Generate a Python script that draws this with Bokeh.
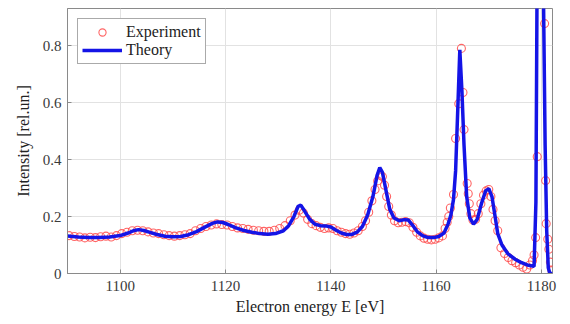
from bokeh.plotting import figure
from bokeh.models import Range1d, FixedTicker, Legend, LegendItem
from bokeh.embed import file_html
from bokeh.resources import INLINE

# Theory curve (energy in eV, intensity in rel. units)
theory_e = [1090.0, 1092.0, 1094.0, 1096.0, 1098.0, 1100.0, 1101.5, 1102.5, 1103.5, 1104.5,
            1105.5, 1107.0, 1108.5, 1110.0, 1111.5, 1113.0, 1114.5, 1116.0, 1117.5, 1118.5,
            1119.5, 1120.5, 1122.0, 1123.5, 1125.0, 1126.5, 1128.0, 1129.5, 1131.0, 1132.0,
            1133.0, 1133.8, 1134.3, 1135.0, 1136.0, 1137.0, 1138.0, 1139.0, 1140.0, 1141.0,
            1142.0, 1143.0, 1144.0, 1145.0, 1146.0, 1147.0, 1148.0, 1148.8, 1149.3, 1149.8,
            1150.5, 1151.2, 1152.0, 1153.0, 1154.0, 1154.7, 1155.5, 1156.5, 1157.5, 1158.5,
            1159.5, 1160.5, 1161.5, 1162.3, 1162.8, 1163.3, 1163.7, 1164.1, 1164.5, 1164.9,
            1165.3, 1165.8, 1166.4, 1167.1, 1167.8, 1168.6, 1169.4, 1170.0, 1170.6, 1171.2,
            1171.7, 1172.5, 1173.6, 1175.0, 1176.0, 1177.3, 1178.6, 1178.95, 1179.15, 1179.5,
            1179.8, 1180.1, 1180.4, 1180.7, 1181.0, 1181.3, 1181.6, 1182.1]
theory_i = [0.132, 0.128, 0.126, 0.126, 0.128, 0.133, 0.142, 0.150, 0.154, 0.151,
            0.145, 0.137, 0.131, 0.129, 0.130, 0.136, 0.147, 0.162, 0.176, 0.181,
            0.179, 0.172, 0.160, 0.151, 0.145, 0.140, 0.138, 0.140, 0.150, 0.168,
            0.200, 0.236, 0.240, 0.220, 0.190, 0.173, 0.168, 0.167, 0.163, 0.152,
            0.142, 0.137, 0.137, 0.145, 0.165, 0.205, 0.270, 0.345, 0.372, 0.355,
            0.290, 0.225, 0.195, 0.185, 0.189, 0.188, 0.170, 0.145, 0.132, 0.126,
            0.126, 0.130, 0.142, 0.175, 0.205, 0.260, 0.360, 0.570, 0.785, 0.640,
            0.450, 0.270, 0.195, 0.173, 0.190, 0.245, 0.290, 0.298, 0.270, 0.200,
            0.140, 0.100, 0.070, 0.050, 0.040, 0.030, 0.025, 0.250, 0.950, 1.600,
            1.700, 1.500, 0.950, 0.450, 0.150, 0.020, 0.000, 0.000]

# Experimental points
exp_e = [1090.3, 1091.3, 1092.3, 1093.3, 1094.3, 1095.3, 1096.3, 1097.3, 1098.3, 1099.3,
         1100.3, 1101.3, 1102.3, 1103.3, 1104.3, 1105.3, 1106.3, 1107.3, 1108.3, 1109.3,
         1110.3, 1111.3, 1112.3, 1113.3, 1114.3, 1115.3, 1116.3, 1117.3, 1118.3, 1119.3,
         1120.3, 1121.3, 1122.3, 1123.3, 1124.3, 1125.3, 1126.3, 1127.3, 1128.3, 1129.3,
         1130.3, 1131.3, 1132.3, 1133.2, 1134.0, 1134.8, 1135.6, 1136.4, 1137.2, 1138.0,
         1138.8, 1139.6, 1140.4, 1141.2, 1142.0, 1142.8, 1143.6, 1144.4, 1145.2, 1146.0,
         1146.6, 1147.2, 1147.8, 1148.4, 1148.9, 1149.4, 1149.8, 1150.2, 1150.6, 1151.0,
         1151.5, 1152.1, 1152.8, 1153.5, 1154.2, 1154.9, 1155.6, 1156.3, 1157.0, 1157.7,
         1158.4, 1159.1, 1159.8, 1160.5, 1161.2, 1161.7, 1162.1, 1162.4, 1162.7, 1163.3,
         1163.7, 1164.3, 1164.8, 1165.1, 1165.3, 1165.9, 1166.1, 1166.3, 1166.6, 1167.0,
         1167.5, 1168.0, 1168.5, 1169.0, 1169.5, 1170.0, 1170.4, 1170.8, 1171.2, 1171.7,
         1172.3, 1173.0, 1173.7, 1174.4, 1175.1, 1175.8, 1176.5, 1177.2, 1177.8, 1178.3,
         1178.6, 1178.9, 1179.2, 1180.6, 1180.8, 1180.9, 1181.2, 1181.4, 1181.7, 1182.0]
exp_i = [0.133, 0.130, 0.128, 0.125, 0.127, 0.126, 0.129, 0.131, 0.128, 0.133,
         0.140, 0.145, 0.150, 0.152, 0.150, 0.146, 0.142, 0.140, 0.136, 0.133,
         0.131, 0.133, 0.136, 0.140, 0.150, 0.158, 0.165, 0.170, 0.174, 0.172,
         0.170, 0.165, 0.160, 0.158, 0.155, 0.152, 0.150, 0.148, 0.148, 0.152,
         0.158, 0.168, 0.185, 0.205, 0.222, 0.212, 0.190, 0.175, 0.168, 0.162,
         0.158, 0.160, 0.158, 0.150, 0.145, 0.140, 0.138, 0.142, 0.150, 0.165,
         0.185, 0.215, 0.255, 0.295, 0.325, 0.345, 0.340, 0.310, 0.270, 0.235,
         0.205, 0.185, 0.178, 0.180, 0.182, 0.178, 0.162, 0.145, 0.132, 0.124,
         0.120, 0.118, 0.120, 0.125, 0.132, 0.158, 0.180, 0.200, 0.230, 0.277,
         0.474, 0.596, 0.790, 0.635, 0.505, 0.316, 0.280, 0.245, 0.210, 0.188,
         0.190, 0.210, 0.245, 0.275, 0.290, 0.295, 0.270, 0.225, 0.185, 0.150,
         0.090, 0.070, 0.056, 0.045, 0.038, 0.030, 0.022, 0.016, 0.030, 0.045,
         0.065, 0.126, 0.410, 0.877, 0.326, 0.175, 0.120, 0.085, 0.040, 0.010]

x_ticks = [1100, 1120, 1140, 1160, 1180]
y_ticks = [0, 0.2, 0.4, 0.6, 0.8]

FONT = "Liberation Serif"
TXT = "#3a3a3a"

p = figure(width=562, height=316, output_backend="svg", toolbar_location=None,
           x_range=Range1d(1090, 1182.1), y_range=Range1d(0, 0.93),
           min_border_left=67, min_border_right=10, min_border_top=8, min_border_bottom=5)
p.frame_width = 485
p.frame_height = 265

p.outline_line_color = "#8a8a8a"
p.outline_line_width = 1
p.background_fill_color = "white"
p.border_fill_color = "white"

for ax in (p.xaxis[0], p.yaxis[0]):
    ax.axis_line_color = "#8a8a8a"
    ax.major_tick_line_color = "#8a8a8a"
    ax.major_tick_in = 4
    ax.major_tick_out = 0
    ax.minor_tick_line_color = None
    ax.major_label_text_font = FONT
    ax.major_label_text_font_size = "15px"
    ax.major_label_text_color = TXT
    ax.axis_label_text_font = FONT
    ax.axis_label_text_font_size = "16px"
    ax.axis_label_text_font_style = "normal"
    ax.axis_label_text_color = "#222222"

p.xaxis[0].ticker = FixedTicker(ticks=x_ticks)
p.yaxis[0].ticker = FixedTicker(ticks=y_ticks)
p.yaxis[0].major_label_overrides = {0: "0", 0.2: "0.2", 0.4: "0.4", 0.6: "0.6", 0.8: "0.8"}
p.xaxis[0].axis_label = "Electron energy E [eV]"
p.yaxis[0].axis_label = "Intensity [rel.un.]"
p.xaxis[0].major_label_standoff = 7
p.xaxis[0].axis_label_standoff = 4
p.yaxis[0].major_label_standoff = 6
p.yaxis[0].axis_label_standoff = 8

p.xgrid.grid_line_color = "#e2e2e2"
p.ygrid.grid_line_color = "#e2e2e2"
p.xgrid.ticker = FixedTicker(ticks=x_ticks)
p.ygrid.ticker = FixedTicker(ticks=y_ticks)

r_exp = p.scatter(exp_e, exp_i, marker="circle", size=8, fill_color=None,
                  line_color="#ff4a4a", line_width=1.1, line_alpha=0.85)
r_th = p.line(theory_e, theory_i, line_color="#1414e6", line_width=3.5)

legend = Legend(items=[LegendItem(label="Experiment", renderers=[r_exp]),
                       LegendItem(label="Theory", renderers=[r_th])],
                location="top_left")
legend.label_text_font = FONT
legend.label_text_font_size = "16px"
legend.label_text_color = "#222222"
legend.border_line_color = "#555555"
legend.border_line_width = 1
legend.background_fill_color = "white"
legend.background_fill_alpha = 1
legend.margin = 10
legend.padding = 4
legend.spacing = 0
legend.label_height = 18
legend.glyph_height = 18
legend.glyph_width = 40
legend.label_standoff = 4
p.add_layout(legend)

open("out.html", "w").write(file_html(p, INLINE))
